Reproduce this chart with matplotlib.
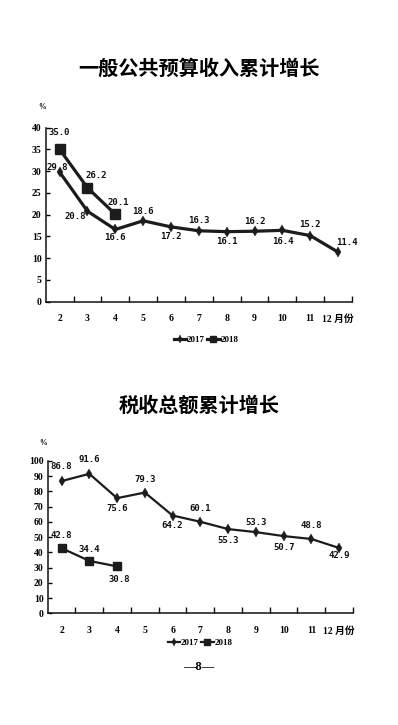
import numpy as np
import matplotlib
matplotlib.use("Agg")
import matplotlib.pyplot as plt

# data
months = ["2", "3", "4", "5", "6", "7", "8", "9", "10", "11", "12 月份"]

rev_2017 = [29.8, 20.8, 16.6, 18.6, 17.2, 16.3, 16.1, 16.2, 16.4, 15.2, 11.4]
rev_2018 = [35.0, 26.2, 20.1]

tax_2017 = [86.8, 91.6, 75.6, 79.3, 64.2, 60.1, 55.3, 53.3, 50.7, 48.8, 42.9]
tax_2018 = [42.8, 34.4, 30.8]

# label offsets in pixels (dx, dy), up is positive
rev_2017_off = [(-2, 5), (-12, -5), (0, -8), (0, 9), (0, -10), (0, 10),
                (0, -10), (0, 10), (0, -11), (0, 11), (9, 10)]
rev_2018_off = [(0, 17), (9, 12), (3, 12)]
tax_2017_off = [(0, 15), (0, 14), (0, -10), (0, 13), (0, -10), (0, 13),
                (0, -11), (0, 10), (0, -11), (0, 13), (0, -8)]
tax_2018_off = [(0, 13), (0, 11), (2, -13)]

plt.rcParams['font.family'] = ['Liberation Serif', 'Noto Sans CJK SC']
plt.rcParams['font.weight'] = 'bold'

W, H = 398, 725
fig = plt.figure(figsize=(W / 100, H / 100), dpi=100)
fig.patch.set_facecolor('white')

line_col = '#1c1c1c'
px = 0.72  # pixel to points


def draw(rect, title, title_y, s17, s18, off17, off18, ymax, ystep, pct_xy,
         leg_xy, lw, sq):
    ax = fig.add_axes(rect)
    x = np.arange(len(months))
    ax.plot(x, s17, color=line_col, lw=lw, marker='d', ms=5.5, mew=0.3,
            label='2017')
    ax.plot(x[:len(s18)], s18, color=line_col, lw=lw, marker='s', ms=sq,
            label='2018')
    for xs, vals, offs in [(x, s17, off17), (x[:len(s18)], s18, off18)]:
        for xi, v, (dx, dy) in zip(xs, vals, offs):
            ax.annotate(f"{v:.1f}", (xi, v), xytext=(dx * px, dy * px),
                        textcoords='offset points', ha='center', va='center',
                        fontsize=6.5, family='DejaVu Sans Mono',
                        fontweight='bold', color='#111')
    ax.set_xlim(-0.5, len(months) - 0.5)
    ax.set_ylim(0, ymax)
    ax.set_yticks(np.arange(0, ymax + 1, ystep))
    ax.set_xticks(x)
    ax.set_xticklabels(months)
    ax.set_xticks(np.arange(0.5, len(months), 1), minor=True)
    ax.tick_params(axis='x', which='major', length=0, pad=9, labelsize=7)
    ax.tick_params(axis='x', which='minor', direction='in', length=4,
                   width=1, color='#111')
    ax.tick_params(axis='y', direction='in', length=3, width=1,
                   labelsize=7, pad=3)
    for s in ['top', 'right']:
        ax.spines[s].set_visible(False)
    for s in ['left', 'bottom']:
        ax.spines[s].set_linewidth(1.1)
        ax.spines[s].set_color('#111')
    ax.patch.set_alpha(0)
    fig.text(0.5, title_y, title, ha='center', va='center', fontsize=14.5,
             family='Noto Sans CJK SC', fontweight='heavy')
    fig.text(pct_xy[0] / W, 1 - pct_xy[1] / H, '%', fontsize=5.5,
             ha='center', va='center')
    ax.legend(loc='center', bbox_to_anchor=(leg_xy[0] / W, 1 - leg_xy[1] / H),
              bbox_transform=fig.transFigure, ncol=2, frameon=False,
              handlelength=1.4, columnspacing=0.2, handletextpad=0.1,
              prop={'size': 6.5, 'weight': 'bold'}, markerscale=0.7)
    return ax


draw([45.7 / W, 1 - 301.7 / H, 306.3 / W, 174 / H], '一般公共预算收入累计增长',
     1 - 68 / H, rev_2017, rev_2018, rev_2017_off, rev_2018_off, 40, 5,
     (42, 107), (206, 340), 2.3, 7)

draw([47.7 / W, 1 - 613.3 / H, 305.3 / W, 152.3 / H], '税收总额累计增长',
     1 - 405 / H, tax_2017, tax_2018, tax_2017_off, tax_2018_off, 100, 10,
     (43, 443), (200, 643), 1.6, 5.5)

fig.text(199 / W, 1 - 667 / H, '—8—', ha='center', va='center', fontsize=9,
         family=['Liberation Serif', 'DejaVu Serif'], fontweight='bold')

fig.savefig('out.png', dpi=100, facecolor='white')
